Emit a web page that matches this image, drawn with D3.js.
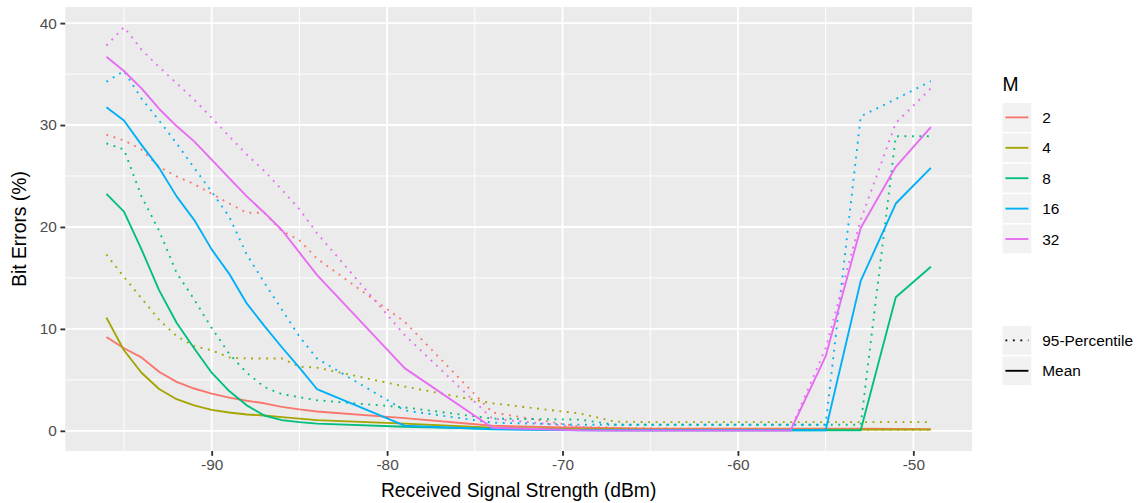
<!DOCTYPE html>
<html>
<head>
<meta charset="utf-8">
<script src="https://cdn.jsdelivr.net/npm/d3@7"></script>
<style>
html,body{margin:0;padding:0;background:#fff;}
svg{display:block;font-family:"Liberation Sans",Arial,sans-serif;}
</style>
</head>
<body>
<svg id="chart" width="1142" height="503"></svg>
<script>
// ---- data ----
const rss = [-96,-95,-94,-93,-92,-91,-90,-89,-88,-87,-86,-85,-84,-79,-74,-69,-67,-65,-63,-61,-59,-57,-55,-53,-51,-49];
const mLevels = ["2","4","8","16","32"];
const mean2  = [9.2,8.1,7.2,5.8,4.8,4.15,3.65,3.25,2.95,2.7,2.35,2.1,1.9,1.25,0.5,0.3,0.25,0.2,0.2,0.2,0.2,0.2,0.2,0.2,0.18,0.17];
const mean4  = [11.1,7.9,5.7,4.1,3.1,2.5,2.05,1.8,1.6,1.5,1.35,1.2,1.05,0.7,0.3,0.15,0.15,0.12,0.12,0.12,0.12,0.12,0.12,0.12,0.12,0.12];
const mean8  = [23.25,21.5,17.8,13.8,10.6,8.1,5.7,3.9,2.5,1.5,1.05,0.85,0.7,0.4,0.2,0.08,0.05,0.05,0.05,0.05,0.05,0.05,0.05,0.05,13.1,16.1];
const mean16 = [31.75,30.45,28.05,25.8,23.0,20.7,17.8,15.4,12.5,10.3,8.2,6.2,4.1,0.5,0.15,0.05,0.05,0.05,0.05,0.05,0.05,0.05,0.05,14.7,22.3,25.8];
const mean32 = [36.7,35.3,33.6,31.6,29.9,28.4,26.6,24.8,23.0,21.4,19.7,17.5,15.3,6.15,0.3,0.05,0.03,0.03,0.03,0.03,0.03,0.03,7.3,19.9,25.9,29.8];
const p95_2  = [29.05,28.5,27.6,25.9,24.96,24.2,23.26,22.3,21.4,21.4,19.6,18.7,16.9,10.7,1.8,0.4,0.3,0.25,0.2,0.2,0.2,0.15,0.15,0.1,0.1,0.1];
const p95_4  = [17.3,15.1,13.0,10.9,9.3,8.3,7.9,7.2,7.1,7.1,7.1,6.3,6.2,4.35,2.7,1.7,0.9,0.85,0.85,0.85,0.85,0.85,0.85,0.85,0.85,0.85];
const p95_8  = [28.2,27.6,23.0,19.65,15.5,12.9,10.1,7.55,5.7,4.3,3.6,3.3,3.0,2.3,1.2,1.1,0.6,0.6,0.6,0.6,0.6,0.6,0.6,0.6,28.9,28.9];
const p95_16 = [34.25,35.3,32.6,30.45,28.2,25.8,23.45,21.0,17.3,14.55,11.9,9.25,7.1,2.0,0.8,0.6,0.6,0.6,0.6,0.6,0.6,0.6,0.6,30.85,32.55,34.3];
const p95_32 = [37.8,39.6,37.4,35.7,34.1,32.5,30.7,28.9,27.1,25.5,23.65,21.75,19.4,9.4,1.2,0.35,0.25,0.15,0.1,0.1,0.1,0.1,8.1,20.7,30.2,33.6];
const xTicks = [-90,-80,-70,-60,-50];
const yTicks = [0,10,20,30,40];
const statLabels = ["95-Percentile","Mean"];
const colors = ["#F8766D","#A3A500","#00BF7D","#00B0F6","#E76BF3"];

const meanSeries = [mean2,mean4,mean8,mean16,mean32];
const pSeries = [p95_2,p95_4,p95_8,p95_16,p95_32];

// ---- layout ----
const svg = d3.select("#chart");
const P = {left:65.2, right:972.1, top:7, bottom:451};
const LW = 1.87;

const xExt = d3.extent(rss), xPad = (xExt[1]-xExt[0])*0.05;
const allY = meanSeries.concat(pSeries).flat();
const yMax = d3.max(allY), yMin = 0, yPad = (yMax-yMin)*0.05;
const x = d3.scaleLinear().domain([xExt[0]-xPad, xExt[1]+xPad]).range([P.left, P.right]);
const y = d3.scaleLinear().domain([yMin-yPad, yMax+yPad]).range([P.bottom, P.top]);

// panel
svg.append("rect").attr("x",P.left).attr("y",P.top).attr("width",P.right-P.left).attr("height",P.bottom-P.top).attr("fill","#EBEBEB");

// minor grid
const xMinor = [-95,-85,-75,-65,-55];
const yMinor = [5,15,25,35];
const g = svg.append("g");
g.selectAll(".xm").data(xMinor).enter().append("line")
  .attr("x1",d=>x(d)).attr("x2",d=>x(d)).attr("y1",P.top).attr("y2",P.bottom)
  .attr("stroke","#fff").attr("stroke-width",LW/2);
g.selectAll(".ym").data(yMinor).enter().append("line")
  .attr("y1",d=>y(d)).attr("y2",d=>y(d)).attr("x1",P.left).attr("x2",P.right)
  .attr("stroke","#fff").attr("stroke-width",LW/2);
g.selectAll(".xM").data(xTicks).enter().append("line")
  .attr("x1",d=>x(d)).attr("x2",d=>x(d)).attr("y1",P.top).attr("y2",P.bottom)
  .attr("stroke","#fff").attr("stroke-width",LW);
g.selectAll(".yM").data(yTicks).enter().append("line")
  .attr("y1",d=>y(d)).attr("y2",d=>y(d)).attr("x1",P.left).attr("x2",P.right)
  .attr("stroke","#fff").attr("stroke-width",LW);

// lines
const line = d3.line().x((d,i)=>x(rss[i])).y(d=>y(d));
const lines = svg.append("g");
pSeries.forEach((s,k)=>{
  lines.append("path").attr("d",line(s)).attr("fill","none")
    .attr("stroke",colors[k]).attr("stroke-width",LW)
    .attr("stroke-dasharray",`${LW} ${LW*3}`);
});
meanSeries.forEach((s,k)=>{
  lines.append("path").attr("d",line(s)).attr("fill","none")
    .attr("stroke",colors[k]).attr("stroke-width",LW).attr("stroke-linejoin","round");
});

// axes
const xAxis = d3.axisBottom(x).tickValues(xTicks).tickSize(4.8).tickPadding(3.5).tickFormat(d3.format("d"));
const yAxis = d3.axisLeft(y).tickValues(yTicks).tickSize(4.8).tickPadding(3.5);
const gx = svg.append("g").attr("transform",`translate(0,${P.bottom})`).call(xAxis);
const gy = svg.append("g").attr("transform",`translate(${P.left},0)`).call(yAxis);
[gx,gy].forEach(a=>{
  a.select(".domain").remove();
  a.selectAll(".tick line").attr("stroke","#333333").attr("stroke-width",LW);
  a.selectAll(".tick text").attr("fill","#4D4D4D").style("font-size","15.4px")
    .style("font-family","'Liberation Sans',Arial,sans-serif");
});
gx.selectAll(".tick text").text(d=>d<0?"-"+Math.abs(d):d);

// axis titles
svg.append("text").attr("x",(P.left+P.right)/2).attr("y",497)
  .attr("text-anchor","middle").style("font-size","19.3px").attr("fill","#000")
  .text("Received Signal Strength (dBm)");
svg.append("text").attr("transform",`translate(26,${(P.top+P.bottom)/2}) rotate(-90)`)
  .attr("text-anchor","middle").style("font-size","19.3px").attr("fill","#000")
  .text("Bit Errors (%)");

// legend M
const lg = svg.append("g");
const kx = 1002.5, kw = 28.8, ks = 30.4, ky0 = 103;
lg.append("text").attr("x",kx).attr("y",ky0-12).style("font-size","19.3px").text("M");
mLevels.forEach((m,i)=>{
  const yy = ky0 + i*ks;
  lg.append("rect").attr("x",kx).attr("y",yy).attr("width",kw).attr("height",kw).attr("fill","#F2F2F2");
  lg.append("line").attr("x1",kx+2.9).attr("x2",kx+kw-2.9).attr("y1",yy+kw/2).attr("y2",yy+kw/2)
    .attr("stroke",colors[i]).attr("stroke-width",LW);
  lg.append("text").attr("x",kx+kw+11).attr("y",yy+kw/2).attr("dy","0.36em")
    .style("font-size","15.4px").attr("fill","#000").text(m);
});
// legend linetype
const ky1 = 326;
statLabels.forEach((s,i)=>{
  const yy = ky1 + i*ks;
  lg.append("rect").attr("x",kx).attr("y",yy).attr("width",kw).attr("height",kw).attr("fill","#F2F2F2");
  const l = lg.append("line").attr("x1",kx+2.9).attr("x2",kx+kw-2.9).attr("y1",yy+kw/2).attr("y2",yy+kw/2)
    .attr("stroke","#000").attr("stroke-width",LW);
  if(i===0) l.attr("stroke-dasharray",`${LW} ${LW*3}`);
  lg.append("text").attr("x",kx+kw+11).attr("y",yy+kw/2).attr("dy","0.36em")
    .style("font-size","15.4px").attr("fill","#000").text(s);
});
</script>
</body>
</html>
